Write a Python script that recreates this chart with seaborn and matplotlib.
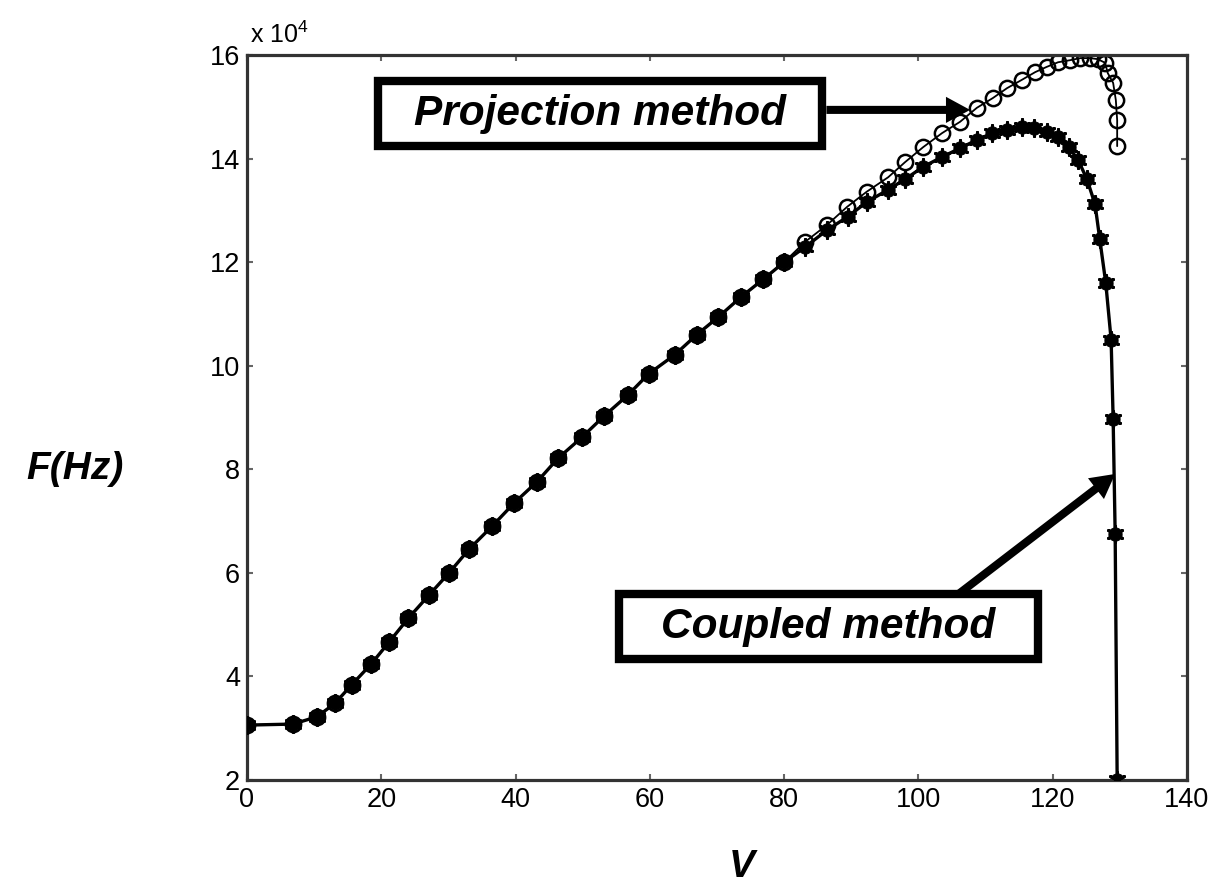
import matplotlib
matplotlib.use("Agg")
import matplotlib.pyplot as plt
import seaborn as sns
import pandas as pd
from matplotlib.patches import Rectangle
from matplotlib.ticker import FuncFormatter

# ---- data (V, F in Hz) ----
v_common = [0, 6.85, 10.4, 13.1, 15.6, 18.5, 21.2, 24.0, 27.1, 30.1, 33.1, 36.5,
            39.8, 43.2, 46.3, 49.9, 53.2, 56.7, 59.8, 63.7, 67.0, 70.2, 73.6, 76.9, 80.0]
f_common = [30600, 30800, 32200, 34800, 38400, 42400, 46700, 51200, 55700, 60000,
            64600, 69000, 73500, 77600, 82100, 86200, 90300, 94300, 98400, 102100,
            106000, 109400, 113300, 116700, 120000]

v_proj_tail = [83.1, 86.4, 89.4, 92.3, 95.5, 98.0, 100.7, 103.5, 106.2, 108.7, 111.1,
               113.2, 115.4, 117.4, 119.1, 120.8, 122.6, 124.1, 125.6, 126.7, 127.8,
               128.2, 129.0, 129.4, 129.6, 129.6]
f_proj_tail = [123900, 127200, 130700, 133600, 136400, 139300, 142200, 144900, 147100,
               149800, 151700, 153600, 155200, 156700, 157700, 158600, 159000, 159400,
               159400, 159200, 158500, 156500, 154600, 151300, 147400, 142400]

v_coup_tail = [83.1, 86.4, 89.5, 92.3, 95.5, 98.0, 100.7, 103.5, 106.2, 108.7, 111.0,
               113.2, 115.4, 117.2, 119.1, 120.8, 122.4, 123.8, 125.1, 126.3, 127.0,
               127.9, 128.7, 129.0, 129.3, 129.6]
f_coup_tail = [122900, 126200, 128800, 131600, 134000, 136000, 138400, 140300, 142000,
               143600, 144900, 145500, 146100, 145900, 145100, 144200, 142200, 139700,
               136000, 131200, 124500, 116000, 105000, 89700, 67600, 20000]

x_ticks = [0, 20, 40, 60, 80, 100, 120, 140]
y_ticks = [20000, 40000, 60000, 80000, 100000, 120000, 140000, 160000]

proj = pd.DataFrame({"V": v_common + v_proj_tail, "F": f_common + f_proj_tail})
coup = pd.DataFrame({"V": v_common + v_coup_tail, "F": f_common + f_coup_tail})

sns.set_theme(style="ticks")
plt.rcParams["font.family"] = ["Liberation Sans", "DejaVu Sans"]
plt.rcParams["mathtext.default"] = "regular"
plt.rcParams["text.color"] = "black"
plt.rcParams["axes.labelcolor"] = "black"
plt.rcParams["xtick.color"] = "black"
plt.rcParams["ytick.color"] = "black"

fig = plt.figure(figsize=(12.18, 8.96), dpi=100)
ax = fig.add_axes([247 / 1218, 1 - 780 / 896, 940 / 1218, 725 / 896])

# coupled method: thick line, filled asterisk-like markers
sns.lineplot(data=coup, x="V", y="F", estimator=None, sort=False, color="black",
             lw=2.4, marker="o", markersize=9.5, markerfacecolor="black",
             markeredgecolor="black", legend=False, ax=ax)
sns.scatterplot(data=coup, x="V", y="F", marker=(6, 2, 0), s=130, linewidth=2.2,
                color="black", legend=False, ax=ax, zorder=3)
# projection method: thin line, open circles
sns.lineplot(data=proj, x="V", y="F", estimator=None, sort=False, color="black",
             lw=1.3, marker="o", markersize=11, markerfacecolor="none",
             markeredgecolor="black", markeredgewidth=1.8, legend=False, ax=ax)

ax.set_xlim(0, 140)
ax.set_ylim(20000, 160000)
ax.set_xticks(x_ticks)
ax.set_yticks(y_ticks)
ax.yaxis.set_major_formatter(FuncFormatter(lambda v, p: f"{v / 1e4:g}"))
ax.tick_params(direction="in", length=4, width=1.5, color="#666666", top=True,
               right=True, labelsize=19.5, pad=5, labelcolor="black")
for sp in ax.spines.values():
    sp.set_visible(True)
    sp.set_linewidth(2.3)
    sp.set_color("#333333")

ax.text(0.003, 1.01, "x 10$^4$", transform=ax.transAxes, fontsize=18,
        ha="left", va="bottom", color="black")

ax.set_ylabel("F(Hz)", fontsize=28, fontweight="bold", fontstyle="italic",
              rotation=0, ha="center", va="center", color="black")
ax.yaxis.set_label_coords(-0.183, 0.429)
ax.set_xlabel("V", fontsize=28, fontweight="bold", fontstyle="italic",
              ha="center", va="center", color="black")
ax.xaxis.set_label_coords(0.5266, -0.12)

# annotation boxes
ax.add_patch(Rectangle((0.1394, 0.8745), 0.4723, 0.0897, transform=ax.transAxes,
                       facecolor="white", edgecolor="black", lw=6, zorder=5,
                       clip_on=False))
ax.text(0.3755, 0.919, "Projection method", transform=ax.transAxes, fontsize=30.5,
        fontweight="bold", fontstyle="italic", ha="center", va="center", zorder=6,
        color="black")
ax.add_patch(Rectangle((0.3957, 0.1669), 0.4457, 0.0897, transform=ax.transAxes,
                       facecolor="white", edgecolor="black", lw=6, zorder=5,
                       clip_on=False))
ax.text(0.6186, 0.2117, "Coupled method", transform=ax.transAxes, fontsize=30.5,
        fontweight="bold", fontstyle="italic", ha="center", va="center", zorder=6,
        color="black")

arrow = dict(arrowstyle="simple,head_length=0.6,head_width=0.65,tail_width=0.2",
             mutation_scale=29, fc="black", ec="black", lw=0, shrinkA=0, shrinkB=0)
ax.annotate("", xy=(107.7, 149400), xytext=(86.3, 149400), arrowprops=arrow, zorder=6)
ax.annotate("", xy=(129.3, 79100), xytext=(105.4, 55350), arrowprops=arrow, zorder=4)

fig.savefig("out.png", dpi=100)
